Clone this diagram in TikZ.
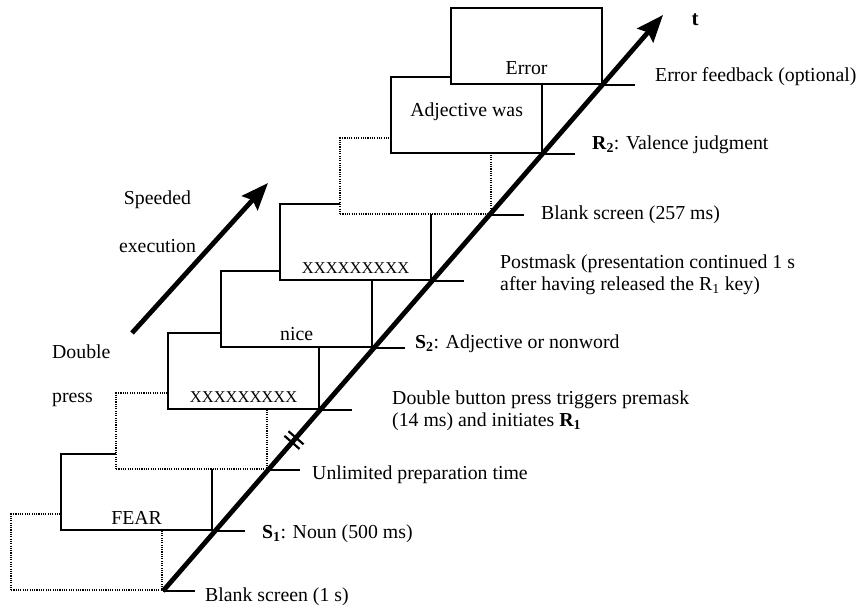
\documentclass[tikz,border=0pt]{standalone}
\usepackage{fontspec}
\setmainfont{Liberation Serif}
\usepackage{tikz}
\usetikzlibrary{arrows.meta,calc,positioning}

\begin{document}
\begin{tikzpicture}[x=1pt, y=1pt,
                    SCREEN/.style={rectangle, draw=black, fill=white, line width=1.8pt, minimum width=151pt, minimum height=76pt, anchor=south east, inner sep=0pt},
                    BLANK/.style={SCREEN, dash pattern=on 1.1pt off 1.2pt},
                    TXT/.style={inner sep=0pt, font=\fontsize{19.8}{22}\selectfont},
                    WORD/.style={TXT, text depth=0pt},
                    MASK/.style={WORD, font=\fontsize{16.5}{20}\selectfont},
                    LBL/.style={TXT, anchor=west, align=left},
                    TICK/.style={line width=2.2pt},
                    TIME/.style={line width=4.8pt, -{Stealth[length=27pt, width=21pt, inset=4pt]}},
                ]
                \useasboundingbox (0,0) rectangle (866,605);

                % screens, later ones lie on top of earlier ones
                \node[BLANK]  (Blank_1)    at (163,14)  {};
                \node[SCREEN] (Noun_S1)    at (213,74)  {};
                \node[BLANK]  (Blank_Prep) at (268,135) {};
                \node[SCREEN] (Premask)    at (320,195) {};
                \node[SCREEN] (Adj_S2)     at (373,257) {};
                \node[SCREEN] (Postmask)   at (432,324) {};
                \node[BLANK]  (Blank_2)    at (492,390) {};
                \node[SCREEN] (Judge_R2)   at (543,451) {};
                \node[SCREEN] (Feedback)   at (603,520) {};

                \node[WORD, above=6pt of Noun_S1.south]   (Noun_Txt)     {FEAR};
                \node[MASK, above=7pt of Premask.south]   (Premask_Txt)  {XXXXXXXXX};
                \node[WORD, above=7pt of Adj_S2.south]    (Adj_Txt)      {nice};
                \node[MASK, above=7pt of Postmask.south]  (Postmask_Txt) {XXXXXXXXX};
                \node[WORD, above=37pt of Judge_R2.south] (Judge_Txt)    {Adjective was};
                \node[WORD, above=10pt of Feedback.south] (Feedback_Txt) {Error};

                \foreach \s in {Blank_1,Noun_S1,Blank_Prep,Premask,Adj_S2,Postmask,Blank_2,Judge_R2,Feedback}
                    \draw[TICK] (\s.south east) -- ([xshift=32pt]\s.south east);

                % time axis
                \coordinate (Time_Start) at (163,14);
                \coordinate (Time_End)   at (663,590);
                \draw[TIME] (Time_Start) -- (Time_End);
                \node[TXT, font=\bfseries\fontsize{21}{24}\selectfont] (Time_Lbl) at (695,585) {t};

                \coordinate (Gap_A) at ($(Time_Start)!0.258!(Time_End)$);
                \coordinate (Gap_B) at ($(Time_Start)!0.266!(Time_End)$);
                \draw[TICK] ($(Gap_A)!10pt!90:(Time_End)$) -- ($(Gap_A)!10pt!-90:(Time_End)$);
                \draw[TICK] ($(Gap_B)!10pt!90:(Time_End)$) -- ($(Gap_B)!10pt!-90:(Time_End)$);

                % speeded execution
                \coordinate (Speed_Start) at (132,272);
                \coordinate (Speed_End)   at (268,422);
                \draw[TIME] (Speed_Start) -- (Speed_End);
                \node[TXT, anchor=base] (Speed_Lbl)  at (157.5,400) {Speeded};
                \node[TXT, anchor=base] (Exec_Lbl)   at (157.5,352) {execution};
                \node[TXT, anchor=base west] (Double_Lbl) at (52,246) {Double};
                \node[TXT, anchor=base west] (Press_Lbl)  at (52,202) {press};

                % events
                \node[LBL] (Lbl_Blank_1) at (205,8)   {Blank screen (1 s)};
                \node[LBL] (Lbl_S1)      at (262,71)  {\textbf{S\textsubscript{1}}: Noun (500 ms)};
                \node[LBL] (Lbl_Prep)    at (312,130) {Unlimited preparation time};
                \node[LBL] (Lbl_Press)   at (392,194) {Double button press triggers premask\\(14 ms) and initiates \textbf{R\textsubscript{1}}};
                \node[LBL] (Lbl_S2)      at (415,261) {\textbf{S\textsubscript{2}}: Adjective or nonword};
                \node[LBL] (Lbl_Post)    at (500,330) {Postmask (presentation continued 1 s\\after having released the R\textsubscript{1} key)};
                \node[LBL] (Lbl_Blank_2) at (541,390) {Blank screen (257 ms)};
                \node[LBL] (Lbl_R2)      at (592,460) {\textbf{R\textsubscript{2}}: Valence judgment};
                \node[LBL] (Lbl_Err)     at (655,528) {Error feedback (optional)};

            \end{tikzpicture}
\end{document}
